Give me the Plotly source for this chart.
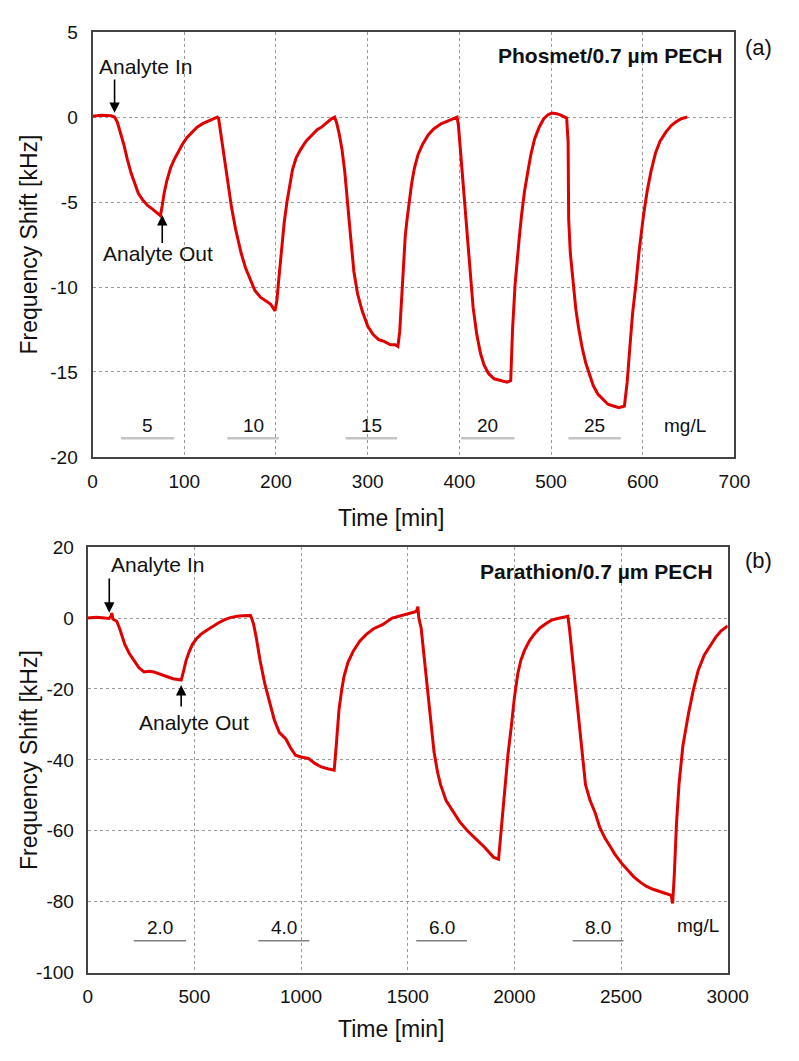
import plotly.graph_objects as go

# ---------------- Data: panel (a) Phosmet ----------------
t_a = [0, 10, 20, 24, 27, 30, 34, 38, 42, 46, 50, 55, 60, 65, 70, 74,
       76, 78, 81, 85, 89, 93, 98, 103, 108, 114, 120, 126, 131, 136,
       137.5, 140, 144, 148, 151.5, 156, 162, 167, 172, 177, 183, 189, 194, 199,
       201, 203, 206, 209, 212, 215, 218, 222, 227, 233, 239, 245, 250, 255, 260.5, 264,
       266, 269, 272, 275, 278, 281, 285, 289, 294, 300, 306, 312, 318, 325, 330, 333,
       335, 337, 339, 341, 343, 345, 348, 351, 355, 360, 366, 372, 380, 389, 397.5,
       399, 402, 405, 408, 411.5, 415, 419, 423, 427, 432, 438, 445, 452, 456,
       458, 460.7, 463, 465.5, 468, 471, 474.7, 478, 482, 487, 492, 497, 501, 506, 510, 517,
       518.6, 519.2, 521, 524, 527, 530, 534, 538, 542, 546, 551, 556, 562, 568, 574, 580,
       583, 586, 589, 592.4, 596, 601, 605, 609, 614, 619, 625, 631, 636, 642, 648.6]
y_a = [0.05, 0.1, 0.08, 0.0, -0.3, -0.8, -1.6, -2.5, -3.3, -3.9, -4.5, -4.9, -5.2, -5.4, -5.6, -5.8,
       -5.2, -4.5, -3.75, -3.0, -2.5, -2.1, -1.6, -1.2, -0.9, -0.6, -0.39, -0.25, -0.1, 0.0,
       -0.1, -1.0, -2.6, -4.1, -5.3, -6.6, -8.0, -8.9, -9.6, -10.2, -10.6, -10.8, -11.0, -11.4,
       -10.8, -9.6, -7.8, -6.2, -5.0, -3.9, -3.1, -2.4, -1.9, -1.4, -1.06, -0.75, -0.58, -0.35, -0.1, 0.0,
       -0.3, -1.0, -1.9, -3.2, -4.8, -6.8, -9.1, -10.4, -11.4, -12.3, -12.8, -13.1, -13.2, -13.4, -13.4, -13.5,
       -12.6, -10.8, -8.8, -7.0, -6.0, -5.0, -3.9, -3.0, -2.2, -1.6, -1.05, -0.7, -0.4, -0.2, 0.0,
       -0.5, -2.5, -4.8, -7.0, -9.1, -11.2, -12.8, -13.9, -14.6, -15.1, -15.4, -15.5, -15.6, -15.5,
       -12.5, -9.9, -8.3, -7.0, -5.7, -4.4, -3.2, -2.2, -1.3, -0.6, -0.1, 0.15, 0.23, 0.2, 0.13, -0.06,
       -1.45, -6.0, -8.0, -9.9, -11.3, -12.4, -13.6, -14.5, -15.2, -15.8, -16.3, -16.6, -16.9, -17.0, -17.1, -17.0,
       -15.6, -13.5, -11.5, -9.9, -7.9, -5.7, -4.3, -3.2, -2.1, -1.4, -0.9, -0.5, -0.29, -0.1, 0.0]

conc_a_labels = ["5", "10", "15", "20", "25"]
conc_a_start = [31, 147, 276, 402, 519]
conc_a_end = [89, 203, 332, 460, 576]
conc_a_level = -18.9

xticks_a = [0, 100, 200, 300, 400, 500, 600, 700]
xtext_a = ["0", "100", "200", "300", "400", "500", "600", "700"]
yticks_a = [5, 0, -5, -10, -15, -20]
ytext_a = ["5", "0", "-5", "-10", "-15", "-20"]

# ---------------- Data: panel (b) Parathion ----------------
t_b = [0, 40, 80, 100, 110, 113, 118, 136, 150, 173.5, 195, 219, 240, 264, 290, 309.5, 330, 355, 380, 400, 420, 438,
       445, 452, 461, 475, 491, 510, 530, 551, 580, 612, 640, 672, 710, 740, 762.6,
       770, 778, 790, 808, 830, 853, 875, 898.5, 915, 929, 950, 974, 1000, 1034.5, 1065, 1095, 1125, 1155.4,
       1165, 1178, 1190, 1201, 1220, 1246, 1275, 1306, 1340, 1382, 1427, 1480, 1520, 1540.6, 1548,
       1552, 1563, 1578, 1593, 1608, 1623.5, 1640, 1654, 1680, 1700, 1720, 1744, 1780, 1812, 1840, 1858, 1880, 1903, 1926,
       1935, 1945, 1956, 1970, 1986, 2000, 2016, 2030, 2047, 2070, 2092, 2120, 2152, 2175, 2197.5, 2225, 2250.5,
       2258, 2270, 2285, 2303, 2318, 2333.5, 2355, 2379, 2400, 2424, 2450, 2470, 2500, 2530, 2560, 2590, 2620, 2650,
       2680, 2710, 2735, 2742,
       2750, 2760, 2771.7, 2790, 2817, 2840, 2862, 2890, 2922.6, 2945, 2968, 2985, 3000]
y_b = [0.0, 0.2, 0.0, -0.1, 0.6, 1.4, -0.3, -0.9, -3.0, -7.4, -10.0, -12.0, -14.0, -15.2, -15.0, -15.2, -15.7, -16.1, -16.7, -17.1, -17.3, -17.5,
       -16.0, -14.0, -12.0, -9.6, -7.4, -5.8, -4.6, -3.7, -2.5, -1.4, -0.5, 0.2, 0.6, 0.7, 0.75,
       -0.3, -1.85, -5.5, -12.0, -18.5, -24.0, -28.8, -32.3, -33.4, -34.1, -36.5, -38.7, -39.2, -39.6, -41.0, -42.0, -42.5, -42.9,
       -36.0, -25.8, -20.5, -16.6, -12.5, -9.2, -6.5, -4.6, -3.0, -1.85, 0.0, 0.9, 1.5, 1.85, 3.2,
       0.0, -2.8, -11.5, -21.2, -30.0, -37.8, -43.5, -47.0, -51.5, -53.5, -55.5, -57.5, -60.0, -62.0, -63.5, -64.5, -66.0, -67.5, -68.0,
       -62.0, -54.0, -47.0, -38.5, -30.4, -22.5, -15.7, -12.0, -9.2, -6.5, -4.6, -2.8, -1.4, -0.6, -0.2, 0.2, 0.5,
       -2.8, -10.0, -19.0, -30.4, -39.5, -47.0, -51.5, -55.0, -59.0, -62.0, -64.5, -66.5, -69.0, -71.0, -73.0, -74.5, -75.7, -76.5,
       -77.2, -77.7, -78.2, -80.5,
       -72.0, -58.0, -47.0, -36.0, -26.7, -20.0, -14.7, -10.5, -7.4, -5.3, -3.7, -2.9, -2.2]

conc_b_labels = ["2.0", "4.0", "6.0", "8.0"]
conc_b_start = [216, 800, 1540, 2273]
conc_b_end = [461, 1039, 1778, 2512]
conc_b_level = -91.0

xticks_b = [0, 500, 1000, 1500, 2000, 2500, 3000]
xtext_b = ["0", "500", "1000", "1500", "2000", "2500", "3000"]
yticks_b = [20, 0, -20, -40, -60, -80, -100]
ytext_b = ["20", "0", "-20", "-40", "-60", "-80", "-100"]

# ---------------- Figure ----------------
W, H = 799, 1061


def fx(p):
    return p / W


def fy(p):
    return 1 - p / H


RED = "#e10000"
FONT = "Liberation Sans, Arial, sans-serif"
TXT = "#111111"

fig = go.Figure()

fig.add_trace(go.Scatter(x=t_a, y=y_a, mode="lines", line=dict(color=RED, width=3),
                         xaxis="x", yaxis="y", showlegend=False, hoverinfo="skip"))
fig.add_trace(go.Scatter(x=t_b, y=y_b, mode="lines", line=dict(color=RED, width=3),
                         xaxis="x2", yaxis="y2", showlegend=False, hoverinfo="skip"))

for s, e in zip(conc_a_start, conc_a_end):
    fig.add_trace(go.Scatter(x=[s, e], y=[conc_a_level, conc_a_level], mode="lines",
                             line=dict(color="#c4c4c4", width=2.5), xaxis="x", yaxis="y",
                             showlegend=False, hoverinfo="skip"))
for s, e in zip(conc_b_start, conc_b_end):
    fig.add_trace(go.Scatter(x=[s, e], y=[conc_b_level, conc_b_level], mode="lines",
                             line=dict(color="#808080", width=1.5), xaxis="x2", yaxis="y2",
                             showlegend=False, hoverinfo="skip"))

annots = []
for lab, s, e in zip(conc_a_labels, conc_a_start, conc_a_end):
    annots.append(dict(x=(s + e) / 2, y=conc_a_level, xref="x", yref="y", text=lab,
                       showarrow=False, xanchor="center", yanchor="bottom",
                       font=dict(size=19, family=FONT, color=TXT)))
annots.append(dict(x=646, y=conc_a_level, xref="x", yref="y", text="mg/L", showarrow=False,
                   xanchor="center", yanchor="bottom", font=dict(size=19, family=FONT, color=TXT)))
for lab, s, e in zip(conc_b_labels, conc_b_start, conc_b_end):
    annots.append(dict(x=(s + e) / 2, y=conc_b_level, xref="x2", yref="y2", text=lab,
                       showarrow=False, xanchor="center", yanchor="bottom", yshift=1,
                       font=dict(size=19, family=FONT, color=TXT)))
annots.append(dict(x=2860, y=conc_b_level, xref="x2", yref="y2", text="mg/L", showarrow=False,
                   xanchor="center", yanchor="bottom", yshift=3,
                   font=dict(size=19, family=FONT, color=TXT)))


def arrow(x, y, ay, xr, yr):
    return dict(x=x, y=y, ax=x, ay=ay, xref=xr, yref=yr, axref=xr, ayref=yr, text="",
                showarrow=True, arrowhead=2, arrowsize=1.3, arrowwidth=1.6, arrowcolor="#000")


def label(x, y, text, xr, yr, size=21):
    return dict(x=x, y=y, xref=xr, yref=yr, text=text, showarrow=False,
                xanchor="center", yanchor="middle", font=dict(size=size, family=FONT, color=TXT))


annots += [
    arrow(24, 0.25, 2.3, "x", "y"),
    label(58, 2.95, "Analyte In", "x", "y"),
    arrow(76, -5.77, -7.5, "x", "y"),
    label(71, -8.05, "Analyte Out", "x", "y"),
    arrow(101, 1.5, 11.6, "x2", "y2"),
    label(326, 15.2, "Analyte In", "x2", "y2"),
    arrow(438, -18.9, -25.4, "x2", "y2"),
    label(498, -29.5, "Analyte Out", "x2", "y2"),
]

annots += [
    dict(x=fx(626), y=fy(46.5), xref="paper", yref="paper", xanchor="center", yanchor="middle",
         text="<b>Phosmet/0.7 µm PECH</b>", showarrow=False,
         font=dict(size=21, family=FONT, color=TXT)),
    dict(x=fx(611), y=fy(572.5), xref="paper", yref="paper", xanchor="center", yanchor="middle",
         text="<b>Parathion/0.7 µm PECH</b>", showarrow=False,
         font=dict(size=21, family=FONT, color=TXT)),
    label(fx(779), fy(38), "(a)", "paper", "paper", 22),
    label(fx(779), fy(562), "(b)", "paper", "paper", 22),
]

ytitle = dict(textangle=-90, showarrow=False, xref="paper", yref="paper",
              xanchor="center", yanchor="middle", text="Frequency Shift [kHz]",
              font=dict(size=23, family=FONT, color=TXT))
annots += [
    dict(x=fx(25), y=fy(239), **ytitle),
    dict(x=fx(25), y=fy(765), **ytitle),
    label(fx(400), fy(518), "Time [min]", "paper", "paper", 23),
    label(fx(400), fy(1040), "Time [min]", "paper", "paper", 23),
]

axis_common = dict(showline=True, linecolor="#444444", linewidth=2, mirror=True,
                   showgrid=True, gridcolor="#9a9a9a", griddash="dot", gridwidth=1,
                   zeroline=False, ticks="", tickmode="array",
                   tickfont=dict(size=19, family=FONT, color=TXT))

fig.update_layout(
    width=W, height=H, margin=dict(l=0, r=0, t=0, b=0),
    paper_bgcolor="white", plot_bgcolor="white",
    annotations=annots,
    xaxis=dict(domain=[fx(90.5), fx(754)], range=[0, 700], anchor="y",
               tickvals=xticks_a, ticktext=xtext_a, ticklabelstandoff=6, **axis_common),
    yaxis=dict(domain=[fy(456), fy(22.5)], range=[-20, 5], anchor="x",
               tickvals=yticks_a, ticktext=ytext_a, ticklabelstandoff=9, **axis_common),
    xaxis2=dict(domain=[fx(85.5), fx(747)], range=[0, 3000], anchor="y2",
                tickvals=xticks_b, ticktext=xtext_b, ticklabelstandoff=6, **axis_common),
    yaxis2=dict(domain=[fy(982), fy(548)], range=[-100, 20], anchor="x2",
                tickvals=yticks_b, ticktext=ytext_b, ticklabelstandoff=8, **axis_common),
)

fig.write_html("out.html")
